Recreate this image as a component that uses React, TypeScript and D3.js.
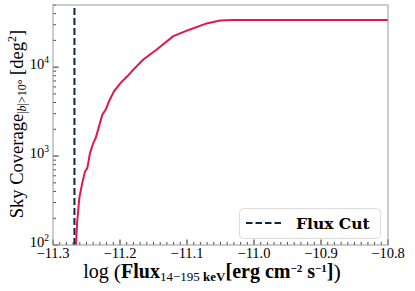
import React from 'react';
import * as d3 from 'd3';

// log flux vs cumulative sky coverage (deg^2)
const logFlux = [
  -11.2657, -11.2646, -11.2637, -11.2607, -11.2563, -11.2522, -11.2488, -11.2448,
  -11.2399, -11.2363, -11.2313, -11.2264, -11.2213, -11.2164, -11.209, -11.199,
  -11.1891, -11.1801, -11.1652, -11.1452, -11.1204, -11.0955, -11.0706, -11.0507,
  -11.0313, -10.8,
];
const coverage = [
  100, 148, 191, 339, 500, 670, 733, 1081,
  1403, 1596, 2157, 2924, 3329, 4128, 5350, 6650,
  7890, 9395, 12190, 15790, 22300, 26550, 31050, 33500,
  33900, 34000,
];
const fluxCut = -11.268;
const xTicks = [-11.3, -11.2, -11.1, -11.0, -10.9, -10.8];
const yTicks = [2, 3, 4];

const W = 415;
const H = 291;
const margin = { top: 5, right: 27, bottom: 46, left: 53 };
const serif = '"Liberation Serif", serif';
const wideSerif = '"DejaVu Serif", serif';

const App = () => {
  const x = d3.scaleLinear().domain([-11.3, -10.8]).range([margin.left, W - margin.right]);
  const y = d3.scaleLog().domain([100, 50000]).range([H - margin.bottom, margin.top]);
  const x0 = margin.left;
  const x1 = W - margin.right;
  const y0 = H - margin.bottom;
  const y1 = margin.top;

  const pts = logFlux.map((f, i) => [f, coverage[i]] as [number, number]);
  const line = d3.line<[number, number]>().x(d => x(d[0])).y(d => y(d[1]));

  const minorX = d3.range(0, 51).map(i => -11.3 + i * 0.01).filter((_, i) => i % 10 !== 0);
  const minorY: number[] = [];
  for (let e = 2; e <= 4; e++) {
    for (let k = 2; k <= 9; k++) {
      const v = k * Math.pow(10, e);
      if (v <= 50000) minorY.push(v);
    }
  }
  const fmt = (v: number) => (v < 0 ? '\u2212' : '') + Math.abs(v).toFixed(1);

  return (
    <svg width={W} height={H} style={{ position: 'absolute', left: 0, top: 0, fontFamily: serif }}>
      <rect width={W} height={H} fill="#fff" />
      {/* ticks (inward) */}
      {minorX.map((v, i) => (
        <line key={'mx' + i} x1={x(v)} x2={x(v)} y1={y0} y2={y0 - 3} stroke="#222" strokeWidth={0.8} />
      ))}
      {xTicks.map((v, i) => (
        <line key={'Mx' + i} x1={x(v)} x2={x(v)} y1={y0} y2={y0 - 5.5} stroke="#222" strokeWidth={1} />
      ))}
      {minorY.map((v, i) => (
        <line key={'my' + i} x1={x0} x2={x0 + 3} y1={y(v)} y2={y(v)} stroke="#222" strokeWidth={0.8} />
      ))}
      {yTicks.map((e, i) => (
        <line key={'My' + i} x1={x0} x2={x0 + 5.5} y1={y(Math.pow(10, e))} y2={y(Math.pow(10, e))} stroke="#222" strokeWidth={1} />
      ))}

      {/* flux cut */}
      <line x1={x(fluxCut)} x2={x(fluxCut)} y1={y0} y2={y1} stroke="#0e2747" strokeWidth={2} strokeDasharray="7,3" />
      {/* coverage curve */}
      <path d={line(pts) ?? ''} fill="none" stroke="#e0174a" strokeWidth={2} />

      {/* frame */}
      <rect x={x0} y={y1} width={x1 - x0} height={y0 - y1} fill="none" stroke="#999" strokeWidth={1} />

      {/* tick labels */}
      {xTicks.map((v, i) => (
        <text key={'tx' + i} x={x(v)} y={257.5} textAnchor="middle" fontSize={14.5}>{fmt(v)}</text>
      ))}
      {yTicks.map((e, i) => (
        <text key={'ty' + i} x={49} y={y(Math.pow(10, e)) + 2} textAnchor="end" fontSize={14.5}>
          10<tspan fontSize={9.5} dy={-6}>{e}</tspan>
        </text>
      ))}

      {/* axis labels */}
      <text x={212} y={277.5} textAnchor="middle" fontSize={20}>
        log <tspan fontSize={22} dy={1}>(</tspan>
        <tspan fontWeight="bold" dy={-1}>Flux</tspan>
        <tspan fontSize={13} dy={3}>14{'\u2212'}195 <tspan fontWeight="bold">keV</tspan></tspan>
        <tspan fontWeight="bold" dy={-3}>[erg cm</tspan>
        <tspan fontSize={11} fontWeight="bold" dy={-6}>{'\u2212'}2</tspan>
        <tspan fontWeight="bold" dy={6}> s</tspan>
        <tspan fontSize={11} fontWeight="bold" dy={-6}>{'\u2212'}1</tspan>
        <tspan fontWeight="bold" dy={6}>]</tspan>
        <tspan fontSize={22} dy={1}>)</tspan>
      </text>
      <text transform="translate(23,124) rotate(-90)" textAnchor="middle" fontSize={18.5}>
        Sky Coverage<tspan fontSize={12} dy={3}>|<tspan fontStyle="italic">b</tspan>|&gt;10°</tspan>
        <tspan dy={-3}> [deg</tspan>
        <tspan fontSize={12} dy={-7}>2</tspan>
        <tspan dy={7}>]</tspan>
      </text>

      {/* legend */}
      <rect x={239.5} y={208.5} width={141} height={30} rx={4} fill="#fff" stroke="#ddd" strokeWidth={1} />
      <line x1={246} x2={282} y1={223} y2={223} stroke="#0e2747" strokeWidth={2} strokeDasharray="6.5,3" />
      <text x={296} y={228.5} fontSize={15.5} fontWeight="bold" fontFamily={wideSerif}>Flux Cut</text>
    </svg>
  );
};

export default App;
